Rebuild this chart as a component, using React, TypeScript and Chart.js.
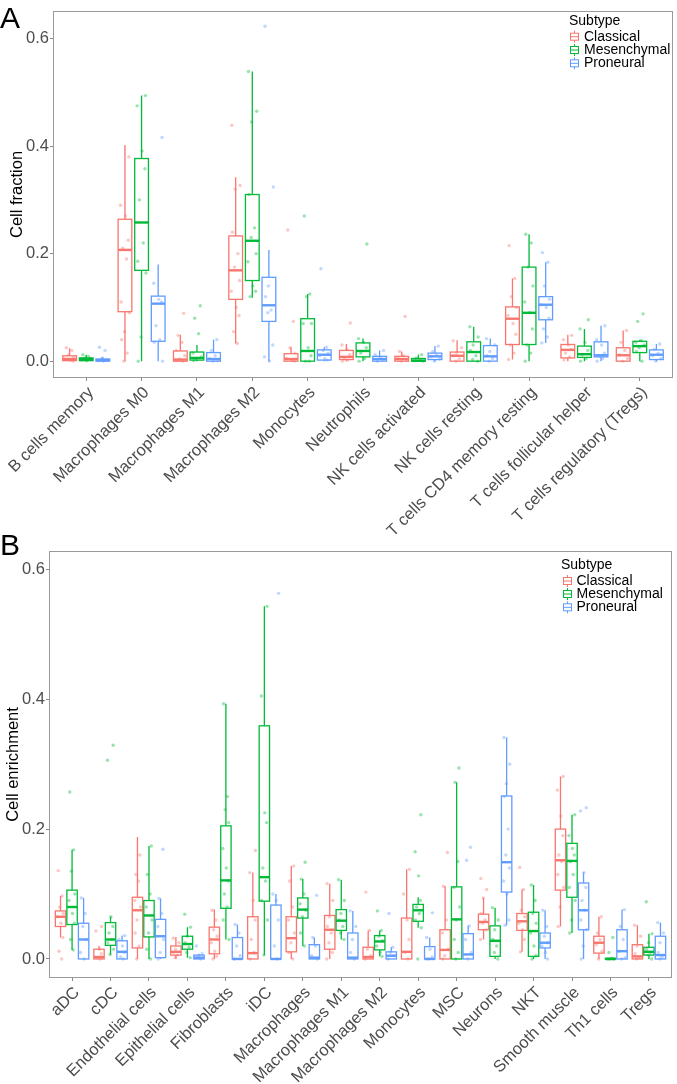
import React, { useEffect, useRef } from "react";
import { Chart, registerables } from "chart.js";
Chart.register(...registerables);

const FONT = "'Liberation Sans', Arial, sans-serif";
const SUBTYPES = ["Classical", "Mesenchymal", "Proneural"];
const COLORS = ["#F8766D", "#00BA38", "#619CFF"];
const POINT_COLORS = ["rgba(248,118,109,0.4)", "rgba(0,186,56,0.4)", "rgba(97,156,255,0.4)"];
const DODGE = [-0.3, 0, 0.3];
const JITTER = [-0.06, 0.04, -0.02, 0.07, -0.08, 0.01, 0.06, -0.04, 0.03, -0.07, 0.08, -0.01];
const Y_TICKS = [0, 0.2, 0.4, 0.6];

// ---------- Panel A: Cell fraction ----------
const catsA = [
  "B cells memory", "Macrophages M0", "Macrophages M1", "Macrophages M2", "Monocytes",
  "Neutrophils", "NK cells activated", "NK cells resting", "T cells CD4 memory resting",
  "T cells follicular helper", "T cells regulatory (Tregs)",
];
// [min, q1, median, q3, max]
const aClassical = [
  [0, 0.001, 0.004, 0.010, 0.024], [0, 0.092, 0.207, 0.264, 0.402], [0, 0.0, 0.003, 0.019, 0.049],
  [0.033, 0.115, 0.169, 0.233, 0.342], [0, 0.0, 0.004, 0.014, 0.026], [0, 0.003, 0.008, 0.020, 0.032],
  [0, 0.0, 0.004, 0.009, 0.018], [0, 0.0, 0.010, 0.017, 0.039], [0.003, 0.031, 0.079, 0.101, 0.154],
  [0, 0.006, 0.021, 0.031, 0.049], [0, 0.0, 0.011, 0.025, 0.057],
];
const aMesenchymal = [
  [0, 0.001, 0.004, 0.006, 0.012], [0, 0.169, 0.258, 0.377, 0.494], [0, 0.002, 0.006, 0.017, 0.030],
  [0.118, 0.150, 0.224, 0.310, 0.539], [0, 0.0, 0.019, 0.079, 0.125], [0, 0.008, 0.019, 0.034, 0.042],
  [0, 0.0, 0.001, 0.005, 0.012], [0, 0.0, 0.017, 0.036, 0.064], [0, 0.031, 0.090, 0.175, 0.236],
  [0, 0.007, 0.013, 0.028, 0.060], [0, 0.016, 0.028, 0.037, 0.040],
];
const aProneural = [
  [0, 0.0, 0.002, 0.004, 0.008], [0, 0.037, 0.107, 0.121, 0.180], [0, 0.0, 0.004, 0.016, 0.040],
  [0, 0.074, 0.104, 0.156, 0.207], [0, 0.002, 0.012, 0.021, 0.026], [0, 0.0, 0.004, 0.009, 0.020],
  [0, 0.003, 0.009, 0.015, 0.028], [0, 0.0, 0.009, 0.029, 0.042], [0.034, 0.077, 0.105, 0.120, 0.184],
  [0, 0.008, 0.011, 0.036, 0.066], [0, 0.003, 0.012, 0.021, 0.032],
];
const aClassicalPts = [
  [0.025, 0.02, 0.012, 0.007, 0.004, 0.002, 0],
  [0.38, 0.29, 0.27, 0.225, 0.21, 0.19, 0.11, 0.09, 0.055, 0.04, 0.015, 0],
  [0.089, 0.048, 0.035, 0.02, 0.01, 0.004, 0.001, 0],
  [0.439, 0.327, 0.32, 0.24, 0.2, 0.175, 0.15, 0.13, 0.1, 0.085, 0.055, 0.033],
  [0.244, 0.074, 0.025, 0.015, 0.005, 0.001, 0],
  [0.071, 0.03, 0.022, 0.012, 0.006, 0.002, 0],
  [0.083, 0.018, 0.01, 0.005, 0.002, 0],
  [0.038, 0.025, 0.015, 0.01, 0.004, 0],
  [0.215, 0.154, 0.12, 0.1, 0.085, 0.07, 0.05, 0.03, 0.015, 0.003],
  [0.048, 0.04, 0.03, 0.022, 0.015, 0.008, 0.002],
  [0.057, 0.035, 0.02, 0.012, 0.005, 0],
];
const aMesenchymalPts = [
  [0.012, 0.009, 0.006, 0.004, 0.002, 0.001],
  [0.494, 0.475, 0.391, 0.358, 0.3, 0.22, 0.186, 0.164, 0.045, 0],
  [0.103, 0.08, 0.051, 0.015, 0.008, 0.004, 0.001],
  [0.539, 0.465, 0.445, 0.31, 0.248, 0.23, 0.2, 0.185, 0.14, 0.13, 0.12],
  [0.27, 0.125, 0.12, 0.07, 0.07, 0.025, 0.01, 0, 0],
  [0.218, 0.042, 0.035, 0.025, 0.015, 0.005, 0],
  [0.012, 0.006, 0.003, 0.001, 0],
  [0.064, 0.045, 0.03, 0.02, 0.01, 0.003, 0],
  [0.236, 0.22, 0.175, 0.14, 0.11, 0.09, 0.06, 0.03, 0.015, 0],
  [0.077, 0.06, 0.035, 0.02, 0.012, 0.005, 0],
  [0.088, 0.074, 0.038, 0.035, 0.03, 0.025, 0.018, 0],
];
const aProneuralPts = [
  [0.026, 0.02, 0.005, 0.003, 0.001, 0],
  [0.416, 0.145, 0.115, 0.11, 0.066, 0.04, 0.035, 0],
  [0.04, 0.02, 0.01, 0.005, 0.001, 0],
  [0.623, 0.324, 0.14, 0.12, 0.095, 0.09, 0.03, 0.008, 0],
  [0.172, 0.026, 0.02, 0.015, 0.01, 0.005, 0.002],
  [0.02, 0.012, 0.006, 0.003, 0],
  [0.028, 0.018, 0.012, 0.008, 0.004, 0],
  [0.042, 0.03, 0.018, 0.01, 0.005, 0],
  [0.202, 0.184, 0.14, 0.115, 0.105, 0.1, 0.08, 0.06, 0.045, 0.034],
  [0.066, 0.04, 0.03, 0.015, 0.01, 0.005, 0],
  [0.032, 0.022, 0.015, 0.01, 0.005, 0],
];

// ---------- Panel B: Cell enrichment ----------
const catsB = [
  "aDC", "cDC", "Endothelial cells", "Epithelial cells", "Fibroblasts", "iDC", "Macrophages",
  "Macrophages M1", "Macrophages M2", "Monocytes", "MSC", "Neurons", "NKT", "Smooth muscle",
  "Th1 cells", "Tregs",
];
const bClassical = [
  [0.033, 0.050, 0.065, 0.074, 0.097], [0, 0.0, 0.003, 0.015, 0.020], [0, 0.017, 0.075, 0.095, 0.188],
  [0, 0.006, 0.011, 0.020, 0.034], [0, 0.008, 0.030, 0.049, 0.076], [0, 0.0, 0.009, 0.065, 0.133],
  [0, 0.011, 0.032, 0.065, 0.143], [0, 0.015, 0.045, 0.067, 0.116], [0, 0.0, 0.003, 0.018, 0.044],
  [0, 0.0, 0.011, 0.063, 0.138], [0, 0.0, 0.014, 0.045, 0.112], [0.030, 0.045, 0.057, 0.069, 0.094],
  [0.011, 0.044, 0.058, 0.070, 0.107], [0.050, 0.106, 0.152, 0.200, 0.281], [0, 0.009, 0.025, 0.035, 0.065],
  [0, 0.0, 0.004, 0.022, 0.052],
];
const bMesenchymal = [
  [0.014, 0.053, 0.080, 0.106, 0.168], [0.007, 0.021, 0.030, 0.056, 0.065], [0, 0.034, 0.067, 0.090, 0.174],
  [0.002, 0.015, 0.023, 0.035, 0.049], [0.030, 0.078, 0.121, 0.205, 0.393], [0.006, 0.089, 0.126, 0.359, 0.543],
  [0.020, 0.063, 0.076, 0.094, 0.123], [0.030, 0.044, 0.059, 0.076, 0.122], [0.004, 0.014, 0.027, 0.036, 0.044],
  [0.048, 0.058, 0.075, 0.084, 0.095], [0, 0.0, 0.061, 0.111, 0.272], [0, 0.004, 0.028, 0.051, 0.079],
  [0, 0.004, 0.043, 0.072, 0.114], [0.040, 0.095, 0.151, 0.178, 0.222], [0, 0.0, 0.0, 0.001, 0.001],
  [0, 0.006, 0.011, 0.018, 0.039],
];
const bProneural = [
  [0, 0.0, 0.030, 0.055, 0.094], [0, 0.0, 0.011, 0.028, 0.036], [0, 0.002, 0.035, 0.061, 0.093],
  [0, 0.0, 0.002, 0.006, 0.008], [0, 0.0, 0.0, 0.033, 0.053], [0, 0.0, 0.0, 0.083, 0.100],
  [0, 0.0, 0.002, 0.022, 0.033], [0, 0.0, 0.002, 0.040, 0.074], [0, 0.0, 0.005, 0.011, 0.018],
  [0, 0.0, 0.0, 0.019, 0.033], [0, 0.0, 0.007, 0.039, 0.051], [0.052, 0.103, 0.149, 0.251, 0.341],
  [0, 0.017, 0.025, 0.040, 0.075], [0, 0.045, 0.075, 0.117, 0.133], [0, 0.0, 0.012, 0.045, 0.076],
  [0, 0.0, 0.006, 0.035, 0.056],
];
const bClassicalPts = [
  [0.136, 0.097, 0.08, 0.07, 0.065, 0.055, 0.033, 0.012, 0],
  [0.05, 0.043, 0.015, 0.008, 0.002, 0],
  [0.16, 0.13, 0.12, 0.09, 0.08, 0.06, 0.04, 0.02, 0],
  [0.032, 0.025, 0.015, 0.01, 0.006, 0.002],
  [0.075, 0.06, 0.045, 0.035, 0.025, 0.012, 0.004, 0],
  [0.167, 0.133, 0.09, 0.06, 0.03, 0.01, 0],
  [0.143, 0.12, 0.08, 0.06, 0.04, 0.025, 0.01, 0],
  [0.116, 0.09, 0.065, 0.05, 0.04, 0.025, 0.01, 0],
  [0.103, 0.044, 0.015, 0.005, 0],
  [0.138, 0.1, 0.06, 0.03, 0.01, 0],
  [0.164, 0.112, 0.06, 0.04, 0.015, 0.005, 0],
  [0.124, 0.107, 0.094, 0.07, 0.06, 0.055, 0.045, 0.03],
  [0.141, 0.107, 0.075, 0.065, 0.055, 0.045, 0.03, 0.011],
  [0.281, 0.26, 0.22, 0.19, 0.16, 0.15, 0.13, 0.11, 0.08, 0.05],
  [0.065, 0.04, 0.03, 0.022, 0.012, 0],
  [0.052, 0.035, 0.02, 0.008, 0.002, 0],
];
const bMesenchymalPts = [
  [0.257, 0.168, 0.135, 0.1, 0.09, 0.07, 0.055, 0.03, 0.014],
  [0.329, 0.306, 0.065, 0.05, 0.04, 0.03, 0.025, 0.015, 0.007],
  [0.174, 0.13, 0.1, 0.08, 0.06, 0.04, 0.015, 0],
  [0.069, 0.049, 0.035, 0.025, 0.018, 0.01, 0.002],
  [0.393, 0.25, 0.23, 0.21, 0.17, 0.14, 0.12, 0.1, 0.08, 0.06, 0.03],
  [0.543, 0.405, 0.225, 0.21, 0.14, 0.12, 0.09, 0.06, 0.006],
  [0.149, 0.123, 0.1, 0.085, 0.075, 0.065, 0.04, 0.02],
  [0.122, 0.09, 0.07, 0.06, 0.05, 0.04, 0.03],
  [0.074, 0.044, 0.035, 0.028, 0.02, 0.01, 0.004],
  [0.222, 0.165, 0.128, 0.09, 0.08, 0.07, 0.06, 0.048, 0],
  [0.294, 0.272, 0.15, 0.11, 0.08, 0.06, 0.03, 0.01, 0],
  [0.079, 0.06, 0.045, 0.03, 0.02, 0.01, 0],
  [0.114, 0.09, 0.07, 0.055, 0.04, 0.02, 0.005, 0],
  [0.222, 0.19, 0.17, 0.16, 0.15, 0.13, 0.11, 0.09, 0.06, 0.04],
  [0.033, 0.01, 0.001, 0, 0, 0],
  [0.088, 0.039, 0.025, 0.015, 0.01, 0.006, 0],
];
const bProneuralPts = [
  [0.094, 0.07, 0.05, 0.03, 0.01, 0],
  [0.036, 0.03, 0.02, 0.01, 0.003, 0],
  [0.169, 0.093, 0.07, 0.05, 0.03, 0.01, 0],
  [0.02, 0.008, 0.004, 0.002, 0],
  [0.053, 0.04, 0.02, 0.005, 0],
  [0.563, 0.1, 0.09, 0.06, 0.02, 0],
  [0.098, 0.033, 0.02, 0.005, 0],
  [0.074, 0.05, 0.03, 0.01, 0],
  [0.07, 0.018, 0.01, 0.005, 0],
  [0.071, 0.033, 0.015, 0.003, 0],
  [0.172, 0.152, 0.051, 0.03, 0.01, 0],
  [0.341, 0.3, 0.27, 0.25, 0.2, 0.16, 0.14, 0.12, 0.1, 0.06, 0.052],
  [0.075, 0.05, 0.035, 0.025, 0.02, 0.01, 0],
  [0.233, 0.228, 0.133, 0.11, 0.09, 0.075, 0.06, 0.045, 0.02, 0],
  [0.076, 0.05, 0.03, 0.012, 0.002, 0],
  [0.056, 0.04, 0.025, 0.01, 0.003, 0],
];

type Panel = {
  letter: string; letterBase: number; cats: string[]; stats: number[][][]; pts: number[][][];
  yTitle: string; titlePad: number; yMin: number; yMax: number; W: number; H: number;
  area: { left: number; top: number; right: number; bottom: number }; half: number;
  legend: { titleX: number; titleY: number; keyX: number; textX: number; ys: number[] };
};

const PANEL_A: Panel = {
  letter: "A", letterBase: 28, cats: catsA, stats: [aClassical, aMesenchymal, aProneural],
  pts: [aClassicalPts, aMesenchymalPts, aProneuralPts], yTitle: "Cell fraction", titlePad: 8,
  yMin: -0.0313, yMax: 0.6516, W: 677, H: 540, area: { left: 53, top: 7, right: 676, bottom: 378 },
  half: 0.124,
  legend: { titleX: 569, titleY: 21, keyX: 569, textX: 584, ys: [36.7, 50, 63.3] },
};
const PANEL_B: Panel = {
  letter: "B", letterBase: 25, cats: catsB, stats: [bClassical, bMesenchymal, bProneural],
  pts: [bClassicalPts, bMesenchymalPts, bProneuralPts], yTitle: "Cell enrichment", titlePad: 3.5,
  yMin: -0.0293, yMax: 0.6282, W: 677, H: 554, area: { left: 49, top: 21, right: 672, bottom: 448 },
  half: 0.135,
  legend: { titleX: 561, titleY: 35, keyX: 562, textX: 576.5, ys: [51, 64, 77.3] },
};

function buildChart(canvas: HTMLCanvasElement, p: Panel) {
  const n = p.cats.length;
  const datasets = SUBTYPES.map((s, si) => {
    const data: { x: number; y: number }[] = [];
    p.pts[si].forEach((vals, ci) => {
      vals.forEach((v, k) => data.push({ x: ci + DODGE[si] + JITTER[(k + ci * 3) % JITTER.length], y: v }));
    });
    return {
      label: s, data, pointRadius: 1.7, pointBorderWidth: 0,
      pointBackgroundColor: POINT_COLORS[si], backgroundColor: POINT_COLORS[si], showLine: false,
    };
  });

  const boxPlugin = {
    id: "boxes",
    beforeDatasetsDraw(chart: any) {
      const { ctx, scales } = chart;
      const xs = scales.x, ys = scales.y;
      ctx.save();
      p.stats.forEach((rows, si) => {
        rows.forEach((r, ci) => {
          const [mn, q1, md, q3, mx] = r;
          const cx = xs.getPixelForValue(ci + DODGE[si]);
          const l = xs.getPixelForValue(ci + DODGE[si] - p.half);
          const rr = xs.getPixelForValue(ci + DODGE[si] + p.half);
          const yq1 = ys.getPixelForValue(q1), yq3 = ys.getPixelForValue(q3);
          ctx.strokeStyle = COLORS[si];
          ctx.lineWidth = 1.3;
          ctx.beginPath();
          ctx.moveTo(cx, ys.getPixelForValue(mx));
          ctx.lineTo(cx, yq3);
          ctx.moveTo(cx, yq1);
          ctx.lineTo(cx, ys.getPixelForValue(mn));
          ctx.stroke();
          ctx.fillStyle = "#ffffff";
          ctx.fillRect(l, yq3, rr - l, yq1 - yq3);
          ctx.strokeRect(l, yq3, rr - l, yq1 - yq3);
          ctx.lineWidth = 2.4;
          ctx.beginPath();
          const ym = ys.getPixelForValue(md);
          ctx.moveTo(l, ym);
          ctx.lineTo(rr, ym);
          ctx.stroke();
        });
      });
      ctx.restore();
    },
    afterDraw(chart: any) {
      const { ctx, chartArea: a } = chart;
      ctx.save();
      ctx.strokeStyle = "#9a9a9a";
      ctx.lineWidth = 1;
      ctx.strokeRect(Math.round(a.left) + 0.5, Math.round(a.top) + 0.5,
        Math.round(a.right - a.left) - 1, Math.round(a.bottom - a.top) - 1);
      // panel letter
      ctx.fillStyle = "#000";
      ctx.font = `30px ${FONT}`;
      ctx.textAlign = "left";
      ctx.textBaseline = "alphabetic";
      ctx.fillText(p.letter, 0, p.letterBase);
      // legend
      const lg = p.legend;
      ctx.font = `14px ${FONT}`;
      ctx.textBaseline = "middle";
      ctx.fillText("Subtype", lg.titleX, lg.titleY);
      SUBTYPES.forEach((s, si) => {
        const cy = lg.ys[si];
        const kx = lg.keyX;
        ctx.strokeStyle = COLORS[si];
        ctx.lineWidth = 1;
        ctx.beginPath();
        ctx.moveTo(kx + 5.5, cy - 6);
        ctx.lineTo(kx + 5.5, cy - 3.5);
        ctx.moveTo(kx + 5.5, cy + 3.5);
        ctx.lineTo(kx + 5.5, cy + 6);
        ctx.stroke();
        ctx.strokeRect(kx + 1.5, cy - 3.5, 8, 7);
        ctx.beginPath();
        ctx.moveTo(kx + 1.5, cy);
        ctx.lineTo(kx + 9.5, cy);
        ctx.stroke();
        ctx.fillStyle = "#000";
        ctx.fillText(s, lg.textX, cy);
      });
      ctx.restore();
    },
  };

  const tickFont = { family: FONT, size: 16.5 };
  return new Chart(canvas, {
    type: "scatter",
    data: { datasets } as any,
    options: {
      animation: false,
      responsive: false,
      devicePixelRatio: 1,
      events: [],
      layout: { padding: { top: p.area.top, right: p.W - p.area.right, left: 0, bottom: 0 } },
      plugins: { legend: { display: false }, tooltip: { enabled: false } },
      scales: {
        x: {
          type: "linear",
          min: -0.6,
          max: n - 0.4,
          afterBuildTicks: (s: any) => { s.ticks = p.cats.map((_, i) => ({ value: i })); },
          afterFit: (s: any) => { s.height = p.H - p.area.bottom; s.paddingLeft = 0; s.paddingRight = 0; },
          ticks: {
            autoSkip: false, minRotation: 45, maxRotation: 45, padding: 2, labelOffset: 5, color: "#4D4D4D",
            font: tickFont, callback: (v: any) => p.cats[Math.round(Number(v))] ?? "",
          },
          grid: { drawOnChartArea: false, drawTicks: true, tickLength: 3, color: "#8a8a8a" },
          border: { display: false },
        },
        y: {
          type: "linear",
          min: p.yMin,
          max: p.yMax,
          afterBuildTicks: (s: any) => { s.ticks = Y_TICKS.map((v) => ({ value: v })); },
          afterFit: (s: any) => { s.width = p.area.left; },
          ticks: { padding: 1, color: "#4D4D4D", font: tickFont, callback: (v: any) => Number(v).toFixed(1) },
          title: {
            display: true, text: p.yTitle, color: "#000", font: { family: FONT, size: 16.5 },
            padding: { top: p.titlePad, bottom: 0 },
          },
          grid: { drawOnChartArea: false, drawTicks: true, tickLength: 3, color: "#8a8a8a" },
          border: { display: false },
        },
      },
    } as any,
    plugins: [boxPlugin],
  });
}

export default function App() {
  const refA = useRef<HTMLCanvasElement>(null);
  const refB = useRef<HTMLCanvasElement>(null);
  useEffect(() => {
    const ca = buildChart(refA.current!, PANEL_A);
    const cb = buildChart(refB.current!, PANEL_B);
    return () => { ca.destroy(); cb.destroy(); };
  }, []);
  return (
    <div style={{ position: "absolute", left: 0, top: 0, width: 677, height: 1084, background: "#fff" }}>
      <canvas ref={refA} width={PANEL_A.W} height={PANEL_A.H}
        style={{ position: "absolute", left: 0, top: 0, width: PANEL_A.W, height: PANEL_A.H }} />
      <canvas ref={refB} width={PANEL_B.W} height={PANEL_B.H}
        style={{ position: "absolute", left: 0, top: 530, width: PANEL_B.W, height: PANEL_B.H }} />
    </div>
  );
}
